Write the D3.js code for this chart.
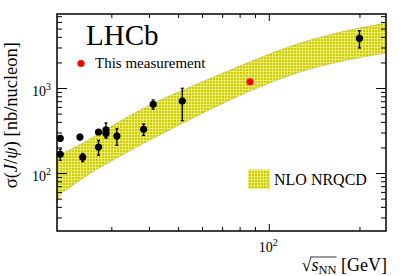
<!DOCTYPE html>
<html>
<head>
<meta charset="utf-8">
<script src="https://cdn.jsdelivr.net/npm/d3@7"></script>
<style>
  body { margin: 0; background: #fff; }
  svg { display: block; font-family: "Liberation Serif", "Times New Roman", serif; }
</style>
</head>
<body>
<svg width="407" height="276"></svg>
<script>
// previous measurements (black)
const dataEnergy = [20.3, 20.3, 23.6, 24.1, 27.2, 27.2, 28.8, 28.8, 31.3, 38.4, 41.3, 51.6, 200];
const dataSigma  = [256, 166, 265, 153, 304, 202, 323, 293, 272, 327, 643, 703, 3842];
const dataErr    = [20, 25, 20, 17, 15, 40, 65, 30, 60, 50, 80, 290, 880];
// this measurement (red)
const lhcbEnergy = [86.6];
const lhcbSigma  = [1186];
// NLO NRQCD band
const bandEnergy = [19.8, 20.2, 21.9, 25.5, 31.3, 40.3, 51.9, 63.8, 86.7, 127, 186, 245];
const bandLow    = [44, 54, 68, 99, 150, 244, 387, 559, 922, 1542, 2163, 2581];
const bandHigh   = [155, 163, 188, 252, 387, 631, 947, 1294, 2037, 3383, 4810, 5820];
// ticks
const xMajor = [100];
const xMinor = [30, 40, 50, 60, 70, 80, 90, 200];
const yMajor = [100, 1000];
const yMinor = [30, 40, 50, 60, 70, 80, 90, 200, 300, 400, 500, 600, 700, 800, 900,
                2000, 3000, 4000, 5000, 6000, 7000];

const padL = 57, padR = 386, padT = 14, padB = 231;
const x = d3.scaleLog().domain([19.8, 245]).range([padL, padR]);
const y = d3.scaleLog().domain([20.8, 7430]).range([padB, padT]);

const svg = d3.select("svg");

// hatched yellow fill like ROOT
const defs = svg.append("defs");
const pat = defs.append("pattern")
    .attr("id", "hatch")
    .attr("patternUnits", "userSpaceOnUse")
    .attr("width", 3).attr("height", 3);
pat.append("rect").attr("width", 3).attr("height", 3).attr("fill", "#ecec70");
pat.append("rect").attr("width", 2).attr("height", 2).attr("fill", "#cccc00");

const band = bandEnergy.map((e, i) => ({e, lo: bandLow[i], hi: bandHigh[i]}));
svg.append("path")
    .datum(band)
    .attr("fill", "url(#hatch)")
    .attr("stroke", "#9a9a20")
    .attr("stroke-width", 0.4)
    .attr("d", d3.area().curve(d3.curveMonotoneX)
        .x(d => x(d.e)).y0(d => y(d.lo)).y1(d => y(d.hi)));

// axes: inward ticks on all four sides
function tickAxis(axisFn, scale, values, size, transform) {
    svg.append("g")
        .attr("transform", transform)
        .call(axisFn(scale).tickValues(values).tickSize(-size).tickFormat(""))
        .call(g => g.select(".domain").remove())
        .call(g => g.selectAll("line").attr("stroke", "#000").attr("stroke-width", 1));
}
tickAxis(d3.axisBottom, x, xMajor, 7, `translate(0,${padB})`);
tickAxis(d3.axisBottom, x, xMinor, 4, `translate(0,${padB})`);
tickAxis(d3.axisTop, x, xMajor, 7, `translate(0,${padT})`);
tickAxis(d3.axisTop, x, xMinor, 4, `translate(0,${padT})`);
tickAxis(d3.axisLeft, y, yMajor, 10, `translate(${padL},0)`);
tickAxis(d3.axisLeft, y, yMinor, 5, `translate(${padL},0)`);
tickAxis(d3.axisRight, y, yMajor, 10, `translate(${padR},0)`);
tickAxis(d3.axisRight, y, yMinor, 5, `translate(${padR},0)`);

svg.append("rect")
    .attr("x", padL).attr("y", padT)
    .attr("width", padR - padL).attr("height", padB - padT)
    .attr("fill", "none").attr("stroke", "#000").attr("stroke-width", 1.5);

// tick labels as powers of ten
svg.selectAll(".xlab").data(xMajor).join("text")
    .attr("x", d => x(d) - 10).attr("y", 252)
    .attr("font-size", 14)
    .call(t => {
        t.append("tspan").text("10");
        t.append("tspan").attr("dy", -6).attr("font-size", 10).text(d => Math.round(Math.log10(d)));
    });
svg.selectAll(".ylab").data(yMajor).join("text")
    .attr("x", 51).attr("y", d => y(d) + 8)
    .attr("text-anchor", "end")
    .attr("font-size", 14)
    .call(t => {
        t.append("tspan").text("10");
        t.append("tspan").attr("dy", -6).attr("font-size", 10).text(d => Math.round(Math.log10(d)));
    });

// data points
const pts = dataEnergy.map((e, i) => ({e, s: dataSigma[i], err: dataErr[i]}));
const errG = svg.append("g").attr("stroke", "#000").attr("stroke-width", 1.3);
errG.selectAll(".bar").data(pts).join("line")
    .attr("x1", d => x(d.e)).attr("x2", d => x(d.e))
    .attr("y1", d => y(d.s + d.err)).attr("y2", d => y(d.s - d.err));
errG.selectAll(".capt").data(pts).join("line")
    .attr("x1", d => x(d.e) - 1.5).attr("x2", d => x(d.e) + 1.5)
    .attr("y1", d => y(d.s + d.err)).attr("y2", d => y(d.s + d.err));
errG.selectAll(".capb").data(pts).join("line")
    .attr("x1", d => x(d.e) - 1.5).attr("x2", d => x(d.e) + 1.5)
    .attr("y1", d => y(d.s - d.err)).attr("y2", d => y(d.s - d.err));
svg.append("g").selectAll("circle").data(pts).join("circle")
    .attr("cx", d => x(d.e)).attr("cy", d => y(d.s)).attr("r", 3.6).attr("fill", "#000");

svg.append("g").selectAll("circle").data(lhcbEnergy).join("circle")
    .attr("cx", d => x(d)).attr("cy", (d, i) => y(lhcbSigma[i])).attr("r", 3.6).attr("fill", "#f00");

// labels and legend
svg.append("text").attr("x", 86).attr("y", 45).attr("font-size", 29).text("LHCb");
svg.append("circle").attr("cx", 81).attr("cy", 63.5).attr("r", 3.6).attr("fill", "#f00");
svg.append("text").attr("x", 95).attr("y", 68).attr("font-size", 15).text("This measurement");

svg.append("rect").attr("x", 248).attr("y", 169.5).attr("width", 22).attr("height", 19.5)
    .attr("fill", "url(#hatch)");
svg.append("text").attr("x", 274).attr("y", 185).attr("font-size", 16).text("NLO NRQCD");

// axis titles
const xt = svg.append("text")
    .attr("x", 387).attr("y", 271)
    .attr("text-anchor", "end")
    .attr("font-size", 18);
xt.append("tspan").text("\u221A");
xt.append("tspan").attr("font-style", "italic").text("s");
xt.append("tspan").attr("font-size", 12.5).attr("dy", 3).text("NN");
xt.append("tspan").attr("dy", -3).text(" [GeV]");
{
    const node = xt.node();
    const r = node.getExtentOfChar(0);
    const endN = node.getExtentOfChar(3);
    svg.append("line")
        .attr("x1", r.x + r.width - 1).attr("x2", endN.x + endN.width)
        .attr("y1", r.y + 2).attr("y2", r.y + 2)
        .attr("stroke", "#000").attr("stroke-width", 0.8);
}

const yt = svg.append("text")
    .attr("transform", "translate(17,42) rotate(-90)")
    .attr("text-anchor", "end")
    .attr("font-size", 18.5);
yt.append("tspan").text("\u03C3(");
yt.append("tspan").attr("font-style", "italic").text("J");
yt.append("tspan").text("/");
yt.append("tspan").attr("font-style", "italic").text("\u03C8");
yt.append("tspan").text(") [nb/nucleon]");
</script>
</body>
</html>
